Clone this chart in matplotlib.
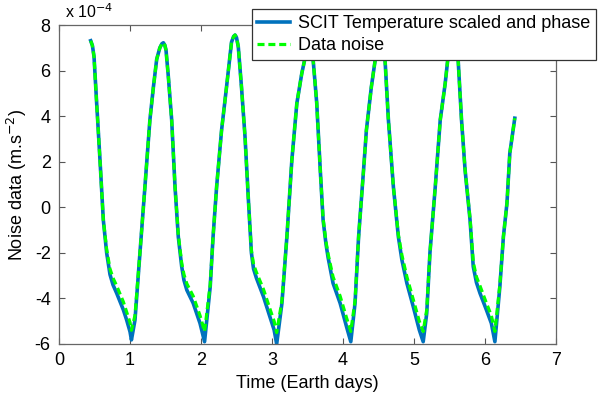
import numpy as np
import matplotlib.pyplot as plt

plt.rcParams['font.family'] = ['Liberation Sans', 'DejaVu Sans']
plt.rcParams['axes.unicode_minus'] = False

# time in Earth days, noise in units of 1e-4 m/s^2
t_scit = [0.446, 0.47, 0.493, 0.53, 0.577, 0.624, 0.671, 0.718, 0.76, 0.812, 0.906, 0.953,
          1.0, 1.02,
          1.07, 1.14, 1.21, 1.28, 1.33, 1.376, 1.42, 1.45, 1.47, 1.49, 1.507, 1.54, 1.587,
          1.634, 1.68, 1.728, 1.76, 1.80, 1.89, 1.986, 2.05,
          2.13, 2.17, 2.22, 2.29, 2.36, 2.43, 2.46, 2.48, 2.50, 2.525, 2.57, 2.62, 2.67,
          2.71, 2.74, 2.78, 2.88, 2.97, 3.03, 3.066,
          3.14, 3.21, 3.28, 3.35, 3.42, 3.48, 3.52, 3.55, 3.58, 3.63, 3.68, 3.72, 3.76,
          3.79, 3.86, 3.96, 4.05, 4.11,
          4.17, 4.22, 4.29, 4.33, 4.40, 4.46, 4.52, 4.59, 4.64, 4.71, 4.78, 4.83, 4.90,
          4.99, 5.075, 5.13,
          5.18, 5.225, 5.30, 5.37, 5.44, 5.48, 5.55, 5.62, 5.67, 5.72, 5.79, 5.835, 5.88,
          5.93, 6.02, 6.09, 6.14,
          6.21, 6.26, 6.31, 6.35, 6.42]
y_scit = [7.31, 7.1, 6.61, 4.58, 2.08, -0.56, -2.0, -2.95, -3.4, -3.77, -4.5, -4.95,
          -5.46, -5.82,
          -4.95, -2.0, 0.9, 3.83, 5.29, 6.5, 7.0, 7.18, 7.22, 7.12, 6.9, 5.73, 3.83,
          0.9, -1.29, -2.6, -3.2, -3.63, -4.21, -5.09, -5.9,
          -3.48, -1.29, 0.9, 3.39, 5.29, 7.25, 7.5, 7.56, 7.45, 7.05, 5.29, 3.1, 0.19,
          -2.0, -2.7, -3.1, -3.92, -4.8, -5.38, -6.0,
          -4.21, -1.29, 2.08, 4.56, 5.88, 6.76, 7.05, 7.0, 6.46, 4.58, 1.64, -0.56, -1.6,
          -2.2, -3.33, -4.21, -5.24, -5.9,
          -4.21, -1.29, 1.64, 3.39, 5.29, 6.6, 7.0, 6.6, 3.83, 0.9, -1.29, -2.31, -3.33,
          -4.36, -5.38, -5.9,
          -4.65, -2.0, 0.9, 3.83, 5.44, 6.6, 7.0, 6.6, 3.83, 1.64, -0.56, -2.6, -3.3,
          -3.77, -4.5, -5.09, -5.9,
          -3.48, -1.29, 0.18, 2.37, 3.91]

t_noise = t_scit
y_noise = [7.31, 7.1, 6.61, 4.58, 2.08, -0.56, -1.85, -2.7, -3.1, -3.45, -4.15, -4.6,
           -5.05, -5.4,
           -4.75, -2.0, 0.9, 3.83, 5.29, 6.5, 7.0, 7.18, 7.22, 7.12, 6.9, 5.73, 3.83,
           0.9, -1.2, -2.45, -2.95, -3.35, -3.9, -4.75, -5.45,
           -3.4, -1.29, 0.9, 3.39, 5.29, 7.25, 7.5, 7.56, 7.45, 7.05, 5.29, 3.1, 0.19,
           -1.9, -2.5, -2.85, -3.6, -4.45, -5.0, -5.5,
           -4.1, -1.29, 2.08, 4.56, 5.88, 6.76, 7.05, 7.0, 6.46, 4.58, 1.64, -0.5, -1.5,
           -2.05, -3.05, -3.9, -4.85, -5.45,
           -4.1, -1.29, 1.64, 3.39, 5.29, 6.6, 7.0, 6.6, 3.83, 0.9, -1.2, -2.1, -3.05,
           -4.05, -5.0, -5.45,
           -4.5, -2.0, 0.9, 3.83, 5.44, 6.6, 7.0, 6.6, 3.83, 1.64, -0.5, -2.4, -3.05,
           -3.45, -4.2, -4.75, -5.45,
           -3.4, -1.29, 0.18, 2.37, 3.91]

fig = plt.figure(figsize=(6.06, 4.0), dpi=100)
ax = fig.add_axes([0.0974, 0.14, 0.82, 0.7975])

ax.plot(t_scit, y_scit, color='#0072BD', linewidth=2.6,
        label='SCIT Temperature scaled and phase')
ax.plot(t_noise, y_noise, color='#00FF00', linewidth=2.3, linestyle=(0, (2.2, 1.2)),
        label='Data noise')

ax.set_xlim(0, 7)
ax.set_ylim(-6, 8)
ax.set_xticks(np.arange(0, 8, 1))
ax.set_yticks(np.arange(-6, 9, 2))
ax.tick_params(direction='in', top=True, right=True, labelsize=13, length=4,
               color='#555555', pad=6)
for s in ax.spines.values():
    s.set_color('#666666')
    s.set_linewidth(0.9)

ax.set_xlabel('Time (Earth days)', fontsize=13, labelpad=4)
ax.set_ylabel('Noise data (m.s$^{-2}$)', fontsize=13, labelpad=4)
ax.text(0.012, 1.012, 'x 10$^{-4}$', transform=ax.transAxes, fontsize=11.5, va='bottom')

leg = ax.legend(loc='upper right', bbox_to_anchor=(0.998, 0.999),
                bbox_transform=fig.transFigure, fontsize=13, fancybox=False,
                framealpha=1, edgecolor='#333333', handlelength=1.8,
                borderpad=0.3, labelspacing=0.3, handletextpad=0.45)
leg.get_frame().set_linewidth(0.9)

fig.savefig('out.png', dpi=100)
